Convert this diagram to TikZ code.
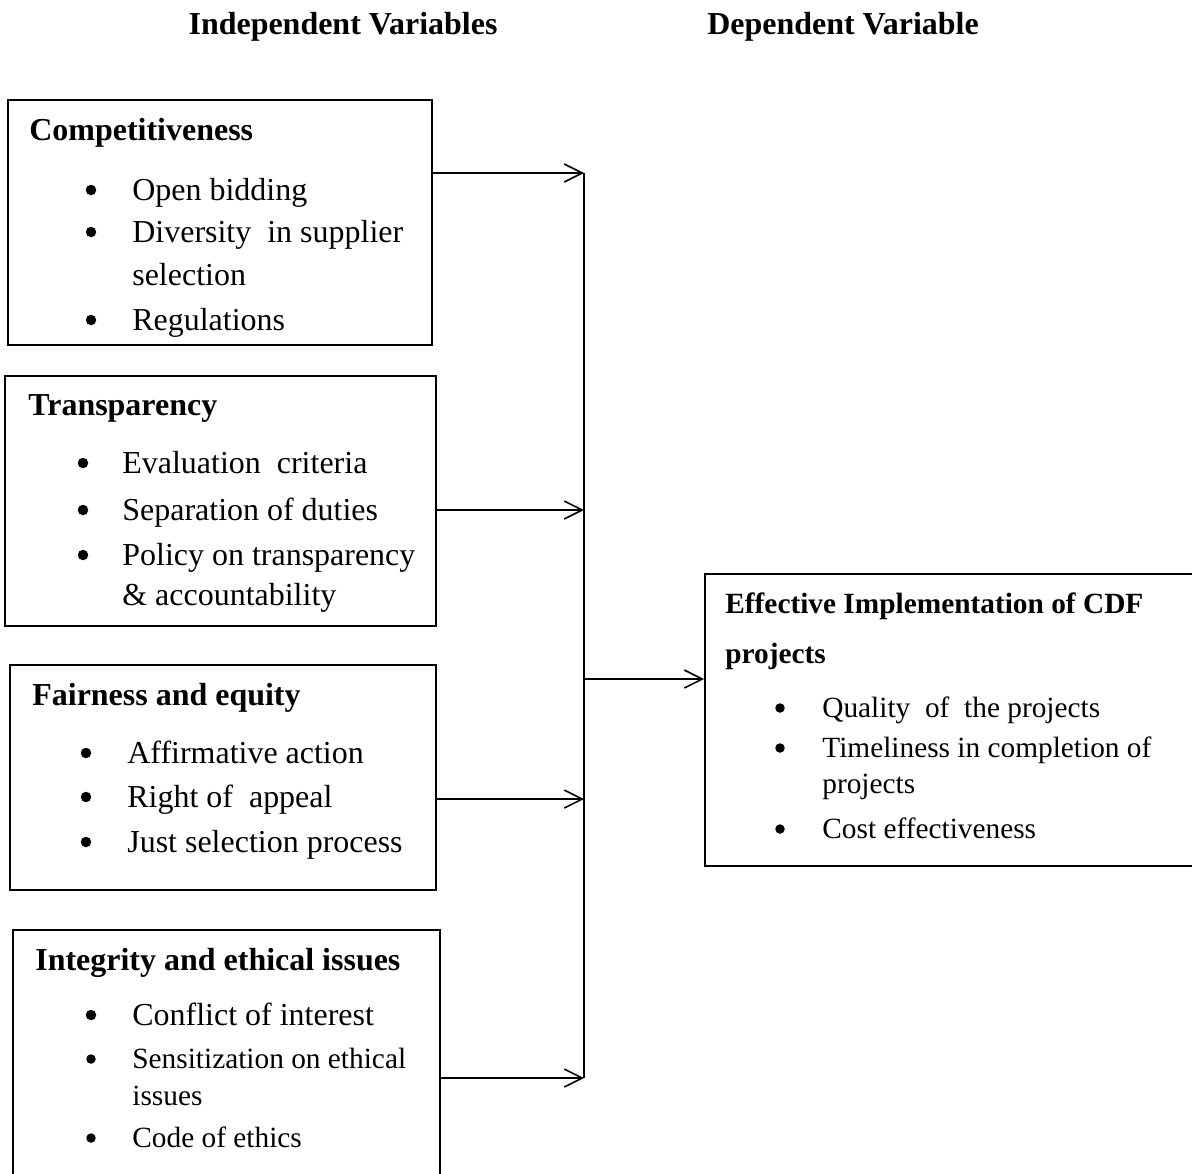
\documentclass[tikz,border=0pt]{standalone}
\usepackage{fontspec}
\setmainfont{Liberation Serif}
\usetikzlibrary{arrows.meta,fit}
\begin{document}
\begin{tikzpicture}[x=0.02cm, y=-0.02cm,
    box/.style={draw, line width=1.1pt, inner sep=0pt},
    big/.style={font=\fontsize{18.2}{22}\selectfont, anchor=base west, inner sep=0pt},
    small/.style={font=\fontsize{16.7}{20}\selectfont, anchor=base west, inner sep=0pt},
    head/.style={big, font=\fontsize{18.2}{22}\selectfont\bfseries},
    subhead/.style={small, font=\fontsize{16.7}{20}\selectfont\bfseries},
    dot/.style={circle, fill, inner sep=0pt, minimum size=0.21cm},
    smalldot/.style={dot, minimum size=0.19cm},
    link/.style={line width=0.9pt},
    arr/.style={link, -{Straight Barb[length=0.36cm, width=0.36cm]}}]
    \useasboundingbox (0,0) rectangle (1192,1173);
    \clip (0,0) rectangle (1192,1173);
    % column titles
    \node[head, anchor=base] (IndepTitle) at (343,34) {Independent Variables};
    \node[head, anchor=base] (DepTitle) at (843,34) {Dependent Variable};
    % boxes
    \node[box, fit={(8,100) (432,345)}] (Compet) {};
    \node[box, fit={(5,376) (436,626)}] (Transp) {};
    \node[box, fit={(10,665) (436,890)}] (Fair) {};
    \node[box, fit={(13,930) (440,1200)}] (Integ) {};
    \node[box, fit={(705,574) (1210,866)}] (Effect) {};
    % competitiveness
    \node[head] (CompetHead) at (29,140) {Competitiveness};
    \node[dot] (CompetDot1) at (91,190) {};
    \node[big] (CompetItem1) at (132,200) {Open bidding};
    \node[dot] (CompetDot2) at (91,232) {};
    \node[big] (CompetItem2) at (132,242) {Diversity\ \ in supplier};
    \node[big] (CompetItem2b) at (132,285) {selection};
    \node[dot] (CompetDot3) at (91,320) {};
    \node[big] (CompetItem3) at (132,330) {Regulations};
    % transparency
    \node[head] (TranspHead) at (28,415) {Transparency};
    \node[dot] (TranspDot1) at (83,463) {};
    \node[big] (TranspItem1) at (122,473) {Evaluation\ \ criteria};
    \node[dot] (TranspDot2) at (83,510) {};
    \node[big] (TranspItem2) at (122,520) {Separation of duties};
    \node[dot] (TranspDot3) at (83,555) {};
    \node[big] (TranspItem3) at (122,565) {Policy on transparency};
    \node[big] (TranspItem3b) at (122,605) {\& accountability};
    % fairness
    \node[head] (FairHead) at (32,705) {Fairness and equity};
    \node[dot] (FairDot1) at (86,753) {};
    \node[big] (FairItem1) at (127,763) {Affirmative action};
    \node[dot] (FairDot2) at (86,797) {};
    \node[big] (FairItem2) at (127,807) {Right of\ \ appeal};
    \node[dot] (FairDot3) at (86,842) {};
    \node[big] (FairItem3) at (127,852) {Just selection process};
    % integrity
    \node[head] (IntegHead) at (35,970) {Integrity and ethical issues};
    \node[dot] (IntegDot1) at (91,1015) {};
    \node[big] (IntegItem1) at (132,1025) {Conflict of interest};
    \node[smalldot] (IntegDot2) at (91,1059) {};
    \node[small] (IntegItem2) at (132,1068) {Sensitization on ethical};
    \node[small] (IntegItem2b) at (132,1105) {issues};
    \node[smalldot] (IntegDot3) at (91,1138) {};
    \node[small] (IntegItem3) at (132,1147) {Code of ethics};
    % dependent variable
    \node[subhead] (EffectHead) at (725,613) {Effective Implementation of CDF};
    \node[subhead] (EffectHeadb) at (725,663) {projects};
    \node[smalldot] (EffectDot1) at (780,708) {};
    \node[small] (EffectItem1) at (822,717) {Quality\ \ of\ \ the projects};
    \node[smalldot] (EffectDot2) at (780,748) {};
    \node[small] (EffectItem2) at (822,757) {Timeliness in completion of};
    \node[small] (EffectItem2b) at (822,793) {projects};
    \node[smalldot] (EffectDot3) at (780,829) {};
    \node[small] (EffectItem3) at (822,838) {Cost effectiveness};
    % connectors
    \coordinate (Bus1) at (584,173);
    \coordinate (Bus2) at (584,510);
    \coordinate (Bus3) at (584,799);
    \coordinate (Bus4) at (584,1078);
    \coordinate (BusOut) at (584,679);
    \draw[arr] (Compet.east |- Bus1) -- (Bus1);
    \draw[arr] (Transp.east |- Bus2) -- (Bus2);
    \draw[arr] (Fair.east |- Bus3) -- (Bus3);
    \draw[arr] (Integ.east |- Bus4) -- (Bus4);
    \draw[link] (Bus1) -- (Bus4);
    \draw[arr] (BusOut) -- (Effect.west |- BusOut);
\end{tikzpicture}
\end{document}
